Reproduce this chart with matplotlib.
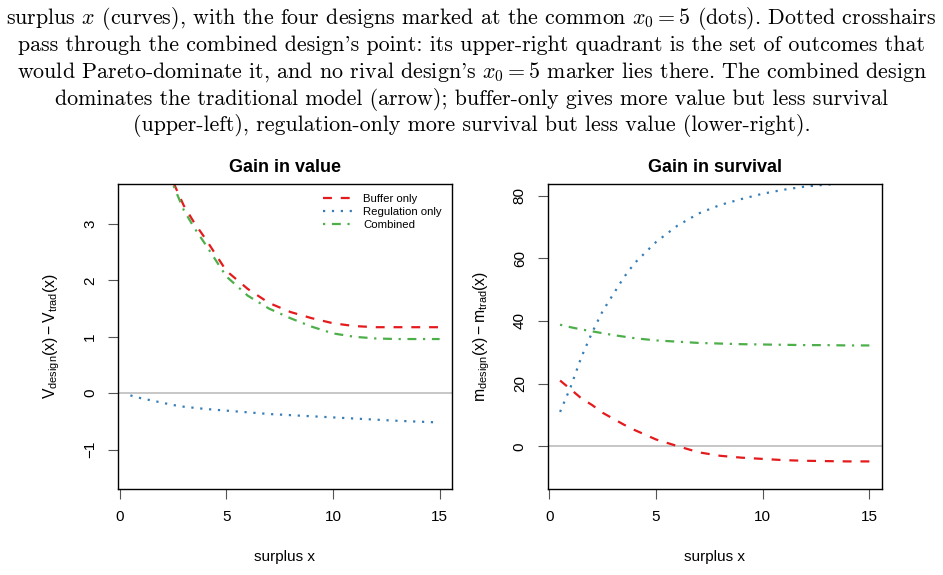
import matplotlib
matplotlib.use("Agg")
import matplotlib.pyplot as plt
import numpy as np

plt.rcParams["font.family"] = ["Liberation Sans", "DejaVu Sans"]
plt.rcParams["mathtext.fontset"] = "custom"
plt.rcParams["mathtext.rm"] = "Liberation Sans"
plt.rcParams["mathtext.it"] = "Liberation Sans:italic"

# surplus grid
x = np.array([0.5, 1, 1.5, 2, 2.5, 3, 3.5, 4, 5, 6, 7, 8, 9, 10, 11, 12, 13, 14, 15])

# gain in value V_design - V_trad
val_buffer = np.array([5.8, 5.2, 4.7, 4.2, 3.75, 3.33, 3.02, 2.75, 2.17, 1.85, 1.6,
                       1.44, 1.33, 1.24, 1.19, 1.17, 1.17, 1.17, 1.17])
val_reg = np.array([-0.04, -0.09, -0.13, -0.17, -0.21, -0.24, -0.26, -0.28, -0.31, -0.34,
                    -0.37, -0.39, -0.41, -0.43, -0.45, -0.47, -0.49, -0.505, -0.52])
val_comb = np.array([5.7, 5.1, 4.55, 4.1, 3.7, 3.25, 2.93, 2.65, 2.07, 1.73, 1.5,
                     1.33, 1.18, 1.06, 1.0, 0.97, 0.96, 0.96, 0.96])

# gain in survival m_design - m_trad
surv_buffer = np.array([21, 18.2, 15.3, 13.2, 10.7, 8.8, 6.9, 5.2, 2.2, 0.1, -1.9,
                        -3.0, -3.6, -4.0, -4.4, -4.6, -4.7, -4.8, -4.8])
surv_reg = np.array([11, 19, 28.5, 36.3, 43.2, 48.6, 54.0, 58.5, 65.2, 70.4, 74.3,
                     77.0, 78.9, 80.6, 81.9, 82.9, 83.5, 84.0, 84.4])
surv_comb = np.array([38.8, 38.0, 37.3, 36.7, 36.1, 35.5, 35.0, 34.5, 33.8, 33.4, 33.0,
                      32.8, 32.6, 32.5, 32.4, 32.3, 32.3, 32.2, 32.2])

labels = ["Buffer only", "Regulation only", "Combined"]
colors = ["#E41A1C", "#377EB8", "#4DAF4A"]
styles = [(0, (4, 4)), (0, (1, 3)), (0, (1, 3, 4, 3))]

caption = [
    r"surplus $x$ (curves), with the four designs marked at the common $x_0 = 5$ (dots). Dotted crosshairs",
    r"pass through the combined design's point: its upper-right quadrant is the set of outcomes that",
    r"would Pareto-dominate it, and no rival design's $x_0 = 5$ marker lies there. The combined design",
    r"dominates the traditional model (arrow); buffer-only gives more value but less survival",
    r"(upper-left), regulation-only more survival but less value (lower-right).",
]

W, H = 943, 575
fig = plt.figure(figsize=(W / 100, H / 100), dpi=100)

for i, line in enumerate(caption):
    fig.text(0.5, 1 - (24.5 + 26.7 * i) / H, line, ha="center", va="baseline",
             fontsize=15.8, family=["cmr10", "DejaVu Serif"], math_fontfamily="cm")


def panel(left, ys, ylim, title, ylabel, yticks, legend=False):
    ax = fig.add_axes([left / W, (H - 489) / H, 334 / W, 305 / H])
    ax.axhline(0, color="#BEBEBE", lw=1.2, zorder=1)
    for y, c, ls, lab in zip(ys, colors, styles, labels):
        ax.plot(x, y, color=c, ls=ls, lw=1.6, label=lab)
    ax.set_xlim(-0.08, 15.58)
    ax.set_ylim(*ylim)
    ax.set_xticks([0, 5, 10, 15])
    ax.set_yticks(yticks)
    ax.tick_params(direction="out", length=7, width=0.8, labelsize=11, pad=8,
                   color="#555555")
    for lab in ax.get_yticklabels():
        lab.set_rotation(90)
        lab.set_va("center")
    for s in ax.spines.values():
        s.set_linewidth(1.0)
    ax.set_title(title, fontsize=13, fontweight="bold", pad=9)
    ax.set_xlabel("surplus x", fontsize=11, labelpad=19)
    ax.set_ylabel(ylabel, fontsize=11.3, labelpad=15)
    if legend:
        ax.legend(loc="upper right", frameon=False, fontsize=8.2, handlelength=2.6,
                  handletextpad=0.9, labelspacing=0.25, borderaxespad=0.5)
    return ax


panel(118, [val_buffer, val_reg, val_comb], (-1.7, 3.71), "Gain in value",
      r"$\mathrm{V_{design}(x)-V_{trad}(x)}$", [-1, 0, 1, 2, 3], legend=True)
panel(547.7, [surv_buffer, surv_reg, surv_comb], (-13.6, 83.7), "Gain in survival",
      r"$\mathrm{m_{design}(x)-m_{trad}(x)}$", [0, 20, 40, 60, 80])

fig.savefig("out.png", dpi=100)
